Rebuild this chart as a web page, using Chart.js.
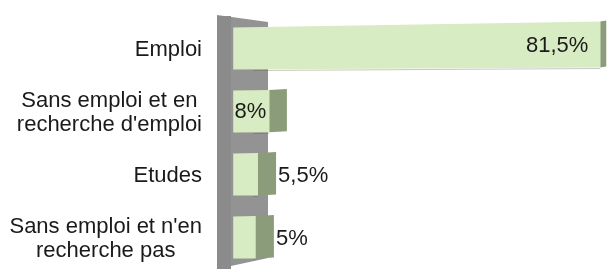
<!DOCTYPE html>
<html><head><meta charset="utf-8">
<script src="https://cdn.jsdelivr.net/npm/chart.js@4"></script>
<style>html,body{margin:0;padding:0;background:#fff}#wrap{width:611px;height:269px;position:relative}</style>
</head><body><div id="wrap"><canvas id="c"></canvas></div>
<script>
// ---- data ----
const categories = [["Emploi"], ["Sans emploi et en", "recherche d'emploi"], ["Etudes"], ["Sans emploi et n'en", "recherche pas"]];
const values = [81.5, 8, 5.5, 5];
const valueLabels = ["81,5%", "8%", "5,5%", "5%"];

// ---- style ----
const FONT = '22px "Liberation Sans", Arial, sans-serif';
const TEXT = '#1a1a1a';
const FRONT = '#d7ecc2', SIDE = '#8b9c7a', WALL = '#939393', WALL_EDGE = '#8b8b8b';
const LEN = 367;
function dyTop(x, base) { return -6 * (x - base) / LEN; }
function dyBot(x, base) { return -2 * (x - base) / LEN; }
function depth(x) { return Math.max(6, 18 - 13 * (x - 260) / 340); }

const wallPlugin = {
  id: 'wall',
  beforeDatasetsDraw(chart) {
    const ctx = chart.ctx, a = chart.chartArea;
    const x0 = a.left, x1 = a.left + 51;
    ctx.save();
    ctx.fillStyle = WALL;
    ctx.beginPath();
    ctx.moveTo(x0, a.top - 2);
    ctx.lineTo(x1, a.top + 5);
    ctx.lineTo(x1, a.bottom - 11);
    ctx.lineTo(x0, a.bottom);
    ctx.closePath();
    ctx.fill();
    ctx.fillStyle = WALL_EDGE;
    ctx.fillRect(x0, a.top - 1, 14, a.bottom - a.top + 1);
    ctx.restore();
  }
};

const barPlugin = {
  id: 'bars3d',
  beforeDatasetDraw() { return false; },
  afterDatasetsDraw(chart) {
    const ctx = chart.ctx;
    const meta = chart.getDatasetMeta(0);
    ctx.save();
    ctx.font = FONT;
    meta.data.forEach((el, i) => {
      const p = el.getProps(['x', 'y', 'base', 'height'], true);
      const x = p.x, base = p.base, top = p.y - p.height / 2, bot = p.y + p.height / 2;
      const tT = top + dyTop(x, base), tB = bot + dyBot(x, base);
      const d = depth(x);
      // side face
      ctx.fillStyle = SIDE;
      ctx.beginPath();
      ctx.moveTo(x, tT); ctx.lineTo(x + d, tT - 1); ctx.lineTo(x + d, tB - 1); ctx.lineTo(x, tB);
      ctx.closePath(); ctx.fill();
      // front face
      ctx.fillStyle = chart.data.datasets[0].backgroundColor;
      ctx.beginPath();
      ctx.moveTo(base, top); ctx.lineTo(x, tT); ctx.lineTo(x, tB); ctx.lineTo(base, bot);
      ctx.closePath(); ctx.fill();
      // light shadow under bar
      ctx.strokeStyle = 'rgba(90,100,80,0.35)';
      ctx.lineWidth = 1;
      ctx.beginPath(); ctx.moveTo(base + 20, bot + 1); ctx.lineTo(x, tB + 1); ctx.stroke();
      // value label
      const txt = valueLabels[i];
      const tw = ctx.measureText(txt).width;
      ctx.fillStyle = TEXT;
      ctx.textBaseline = 'middle';
      if (tw + 3 <= x - base) {
        const pad = 2 + (x - base) * 0.027;
        const cx = x - pad - tw / 2;
        const cy = p.y + (dyTop(cx, base) + dyBot(cx, base)) / 2;
        ctx.textAlign = 'right';
        ctx.fillText(txt, x - pad, cy + 1);
      } else {
        ctx.textAlign = 'left';
        ctx.fillText(txt, x + d + 2, p.y + 1);
      }
    });
    ctx.restore();
  }
};

const labelPlugin = {
  id: 'ylabels',
  afterDraw(chart) {
    const ctx = chart.ctx, a = chart.chartArea, ys = chart.scales.y;
    const lh = 24;
    ctx.save();
    ctx.font = FONT;
    ctx.fillStyle = TEXT;
    ctx.textAlign = 'center';
    ctx.textBaseline = 'middle';
    chart.data.labels.forEach((lines, i) => {
      const cy = ys.getPixelForValue(i);
      const w = Math.max(...lines.map(l => ctx.measureText(l).width));
      const right = a.left - 15;
      const cx = right - w / 2;
      const y0 = cy - (lines.length - 1) * lh / 2;
      lines.forEach((l, k) => ctx.fillText(l, cx, y0 + k * lh + 1));
    });
    ctx.restore();
  }
};

new Chart(document.getElementById('c'), {
  type: 'bar',
  data: {
    labels: categories,
    datasets: [{ data: values, backgroundColor: FRONT, borderWidth: 0, barPercentage: 0.667, categoryPercentage: 1 }]
  },
  options: {
    indexAxis: 'y',
    responsive: true,
    maintainAspectRatio: false,
    animation: false,
    layout: { padding: { left: 217, right: 4, top: 17, bottom: 0 } },
    scales: {
      x: { type: 'linear', min: -3.6, max: 83, display: false },
      y: { type: 'category', display: false, offset: true }
    },
    plugins: { legend: { display: false }, tooltip: { enabled: false } }
  },
  plugins: [wallPlugin, barPlugin, labelPlugin]
});
</script>
</body></html>
